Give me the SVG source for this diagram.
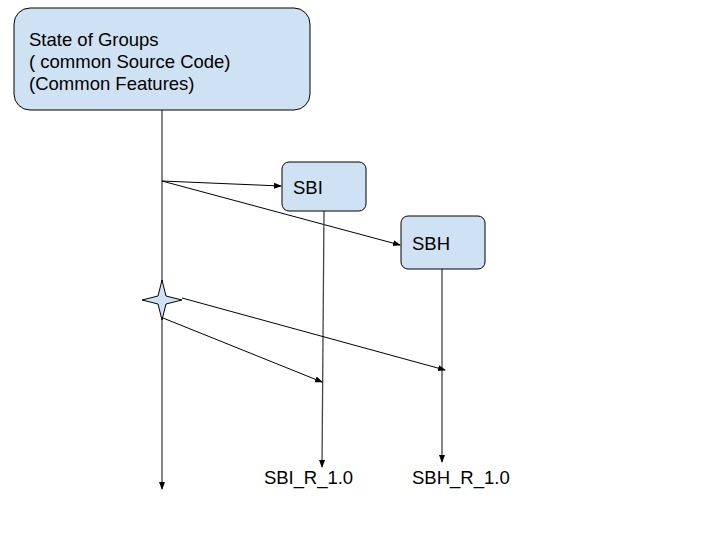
<svg xmlns="http://www.w3.org/2000/svg" width="720" height="540" viewBox="0 0 720 540">
<style>
.box{fill:#cfe2f3;stroke:#000;stroke-width:1}
.t{font-family:"Liberation Sans",Arial,sans-serif;font-size:18.5px;fill:#000}
.ln{stroke:#000;stroke-width:1;fill:none}
.vl{stroke:#444;stroke-width:1.3;fill:none}
</style>
<defs>
<marker id="ah" markerWidth="8" markerHeight="8" refX="7" refY="4" orient="auto" markerUnits="userSpaceOnUse">
<path d="M0,1 L8,4 L0,7 Z" fill="#000"/>
</marker>
</defs>
<g id="connectors">
<line class="vl" x1="162" y1="110" x2="162" y2="489" marker-end="url(#ah)"/>
<line class="ln" x1="162" y1="181" x2="281" y2="186" marker-end="url(#ah)"/>
<line class="ln" x1="162" y1="181" x2="400" y2="245" marker-end="url(#ah)"/>
<line class="vl" x1="324" y1="211" x2="322" y2="467" marker-end="url(#ah)"/>
<line class="vl" x1="442" y1="269" x2="442" y2="462" marker-end="url(#ah)"/>
<line class="ln" x1="182" y1="298" x2="445" y2="370" marker-end="url(#ah)"/>
<line class="ln" x1="163" y1="318" x2="322" y2="382" marker-end="url(#ah)"/>
</g>
<g id="state">
<rect class="box" x="14" y="8" width="296" height="102" rx="16"/>
<text class="t" x="29" y="46">State of Groups</text>
<text class="t" x="29" y="68">( common Source Code)</text>
<text class="t" x="29" y="90">(Common Features)</text>
</g>
<g id="sbi">
<rect class="box" x="282" y="162" width="84" height="49" rx="7"/>
<text class="t" x="293" y="194">SBI</text>
</g>
<g id="sbh">
<rect class="box" x="401" y="216" width="84" height="53" rx="7"/>
<text class="t" x="412" y="250">SBH</text>
</g>
<g id="star">
<path class="box" d="M162,280 L166,296 L182,300 L166,304 L162,320 L158,304 L142,300 L158,296 Z"/>
</g>
<g id="labels">
<text class="t" x="264" y="484" textLength="89">SBI_R_1.0</text>
<text class="t" x="412" y="484">SBH_R_1.0</text>
</g>
</svg>
